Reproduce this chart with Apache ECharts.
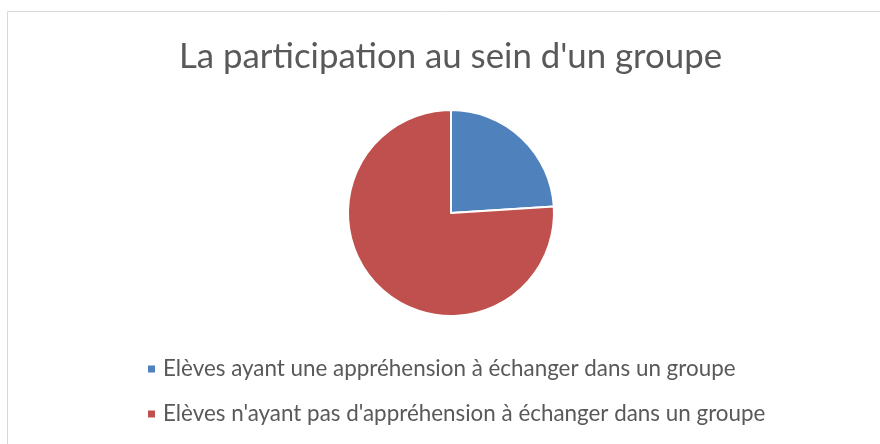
<!DOCTYPE html>
<html>
<head>
<meta charset="utf-8">
<script src="https://cdn.jsdelivr.net/npm/echarts@6/dist/echarts.min.js"></script>
<style>
  html, body { margin: 0; padding: 0; background: #fff; }
  #main { width: 880px; height: 444px; }
</style>
</head>
<body>
<div id="main"></div>
<script>
const titleText = "La participation au sein d'un groupe";
const categories = [
  'Elèves ayant une appréhension à échanger dans un groupe',
  "Elèves n'ayant pas d'appréhension à échanger dans un groupe"
];
const values = [24, 76];
const colors = ['#4f81bd', '#c0504d'];

const FONT = 'Lato';
var myChart = echarts.init(document.getElementById('main'));
myChart.setOption({
  animation: false,
  color: colors,
  title: {
    text: titleText,
    left: 179,
    top: 39,
    padding: 0,
    textStyle: { fontFamily: FONT, fontSize: 34.8, fontWeight: 'normal', color: '#595959' }
  },
  legend: {
    orient: 'vertical',
    left: 146,
    top: 358,
    padding: 0,
    itemGap: 23,
    itemWidth: 9,
    itemHeight: 9,
    icon: 'rect',
    data: categories,
    textStyle: { fontFamily: FONT, fontSize: 22.4, lineHeight: 22, color: '#595959', padding: [0, 0, 0, 2] }
  },
  graphic: [{
    type: 'rect',
    shape: { x: 7.5, y: 11.5, width: 900, height: 500 },
    style: { fill: 'none', stroke: '#d9d9d9', lineWidth: 1 },
    silent: true
  }],
  series: [{
    type: 'pie',
    center: [451, 213],
    radius: 103,
    startAngle: 90,
    clockwise: true,
    label: { show: false },
    labelLine: { show: false },
    itemStyle: { borderColor: '#fff', borderWidth: 2 },
    data: categories.map((c, i) => ({ name: c, value: values[i] }))
  }]
});
</script>
</body>
</html>
